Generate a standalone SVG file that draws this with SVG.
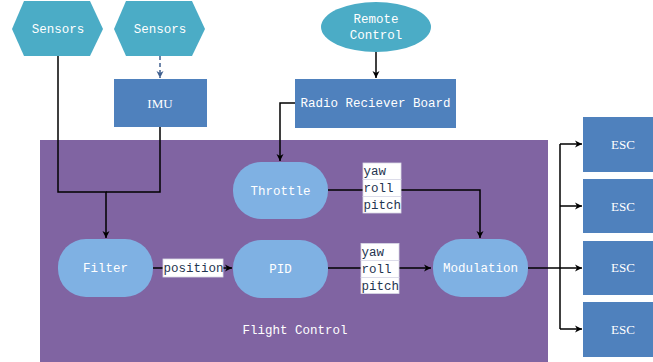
<svg xmlns="http://www.w3.org/2000/svg" width="653" height="362" viewBox="0 0 653 362">
<style>
.hex{fill:#4bacc6}
.box{fill:#4f81bd}
.rr{fill:#7fb1e3}
.t{font-family:"Liberation Mono","DejaVu Sans Mono",monospace;font-size:12.5px;fill:#ffffff;text-anchor:middle}
.s{font-family:"Liberation Serif","DejaVu Serif",serif;font-size:13px;fill:#ffffff;text-anchor:middle}
.lbl{font-family:"Liberation Mono","DejaVu Sans Mono",monospace;font-size:12.5px;fill:#1f3550}
.lb{fill:#ffffff;stroke:#d9d9e6;stroke-width:0.8}
.c{fill:none;stroke:#000;stroke-width:1.5}
</style>
<defs>
<marker id="a" markerWidth="8" markerHeight="8" refX="7" refY="4" orient="auto" markerUnits="userSpaceOnUse">
<path d="M0,0.5 L7,4 L0,7.5 L2,4 z" fill="#000"/>
</marker>
<marker id="ab" markerWidth="8" markerHeight="8" refX="7" refY="4" orient="auto" markerUnits="userSpaceOnUse">
<path d="M0,0.5 L7,4 L0,7.5 L2,4 z" fill="#3f5f8f"/>
</marker>
</defs>
<rect id="flight-control" x="40" y="140" width="508" height="222" fill="#8064a2"/>
<g id="sensors1"><polygon class="hex" points="12,29 24,1 90,1 103,29 90,56 24,56"/><text class="t" x="58" y="33">Sensors</text></g>
<g id="sensors2"><polygon class="hex" points="114,29 126,1 192,1 205,29 192,56 126,56"/><text class="t" x="160" y="33">Sensors</text></g>
<g id="imu"><rect class="box" x="114" y="79" width="93" height="48"/><text class="s" x="160" y="108">IMU</text></g>
<g id="remote"><ellipse class="hex" cx="376" cy="27" rx="55" ry="25"/><text class="t" x="376" y="23">Remote</text><text class="t" x="376" y="39">Control</text></g>
<g id="radio"><rect class="box" x="295" y="79" width="161" height="49"/><text class="t" x="375.5" y="107">Radio Reciever Board</text></g>
<g id="connectors">
<path class="c" d="M58,56 V192 H106 V238" marker-end="url(#a)"/>
<path class="c" d="M160,127 V192 H106"/>
<path d="M160,56 V78" fill="none" stroke="#3f5f8f" stroke-width="1.5" stroke-dasharray="4,3" marker-end="url(#ab)"/>
<path class="c" d="M376,52 V78" marker-end="url(#a)"/>
<path class="c" d="M295,103 H280 V161" marker-end="url(#a)"/>
<path class="c" d="M328,190 H480 V238" marker-end="url(#a)"/>
<path class="c" d="M153,268 H232" marker-end="url(#a)"/>
<path class="c" d="M328,268 H431" marker-end="url(#a)"/>
<path class="c" d="M528,268 H582" marker-end="url(#a)"/>
<path class="c" d="M560,144 V329"/>
<path class="c" d="M560,144 H582" marker-end="url(#a)"/>
<path class="c" d="M560,206 H582" marker-end="url(#a)"/>
<path class="c" d="M560,329 H582" marker-end="url(#a)"/>
</g>
<g id="throttle"><rect class="rr" x="233" y="162" width="95" height="57" rx="28"/><text class="t" x="280.5" y="195">Throttle</text></g>
<g id="filter"><rect class="rr" x="58" y="239" width="95" height="58" rx="28"/><text class="t" x="105.5" y="272">Filter</text></g>
<g id="pid"><rect class="rr" x="233" y="240" width="95" height="58" rx="28"/><text class="t" x="280.5" y="273">PID</text></g>
<g id="modulation"><rect class="rr" x="433" y="239" width="95" height="58" rx="28"/><text class="t" x="480.5" y="272">Modulation</text></g>
<g id="label-position"><rect class="lb" x="163" y="259" width="60" height="18"/><text class="lbl" x="163.5" y="272">position</text></g>
<g id="label-throttle">
<rect class="lb" x="363" y="163" width="38" height="16.5"/><rect class="lb" x="363" y="179.5" width="38" height="17"/><rect class="lb" x="363" y="196.5" width="38" height="16.5"/>
<text class="lbl" x="363.5" y="175">yaw</text><text class="lbl" x="363.5" y="192">roll</text><text class="lbl" x="363.5" y="209">pitch</text>
</g>
<g id="label-pid">
<rect class="lb" x="361" y="243.5" width="38" height="17"/><rect class="lb" x="361" y="260.5" width="38" height="17"/><rect class="lb" x="361" y="277.5" width="38" height="16"/>
<text class="lbl" x="361.5" y="256">yaw</text><text class="lbl" x="361.5" y="273">roll</text><text class="lbl" x="361.5" y="290">pitch</text>
</g>
<text class="t" x="295" y="334">Flight Control</text>
<g id="esc1"><rect class="box" x="583" y="117" width="80" height="55"/><text class="s" x="623" y="149">ESC</text></g>
<g id="esc2"><rect class="box" x="583" y="179" width="80" height="54"/><text class="s" x="623" y="211">ESC</text></g>
<g id="esc3"><rect class="box" x="583" y="241" width="80" height="54"/><text class="s" x="623" y="272">ESC</text></g>
<g id="esc4"><rect class="box" x="583" y="302" width="80" height="55"/><text class="s" x="623" y="334">ESC</text></g>
</svg>
